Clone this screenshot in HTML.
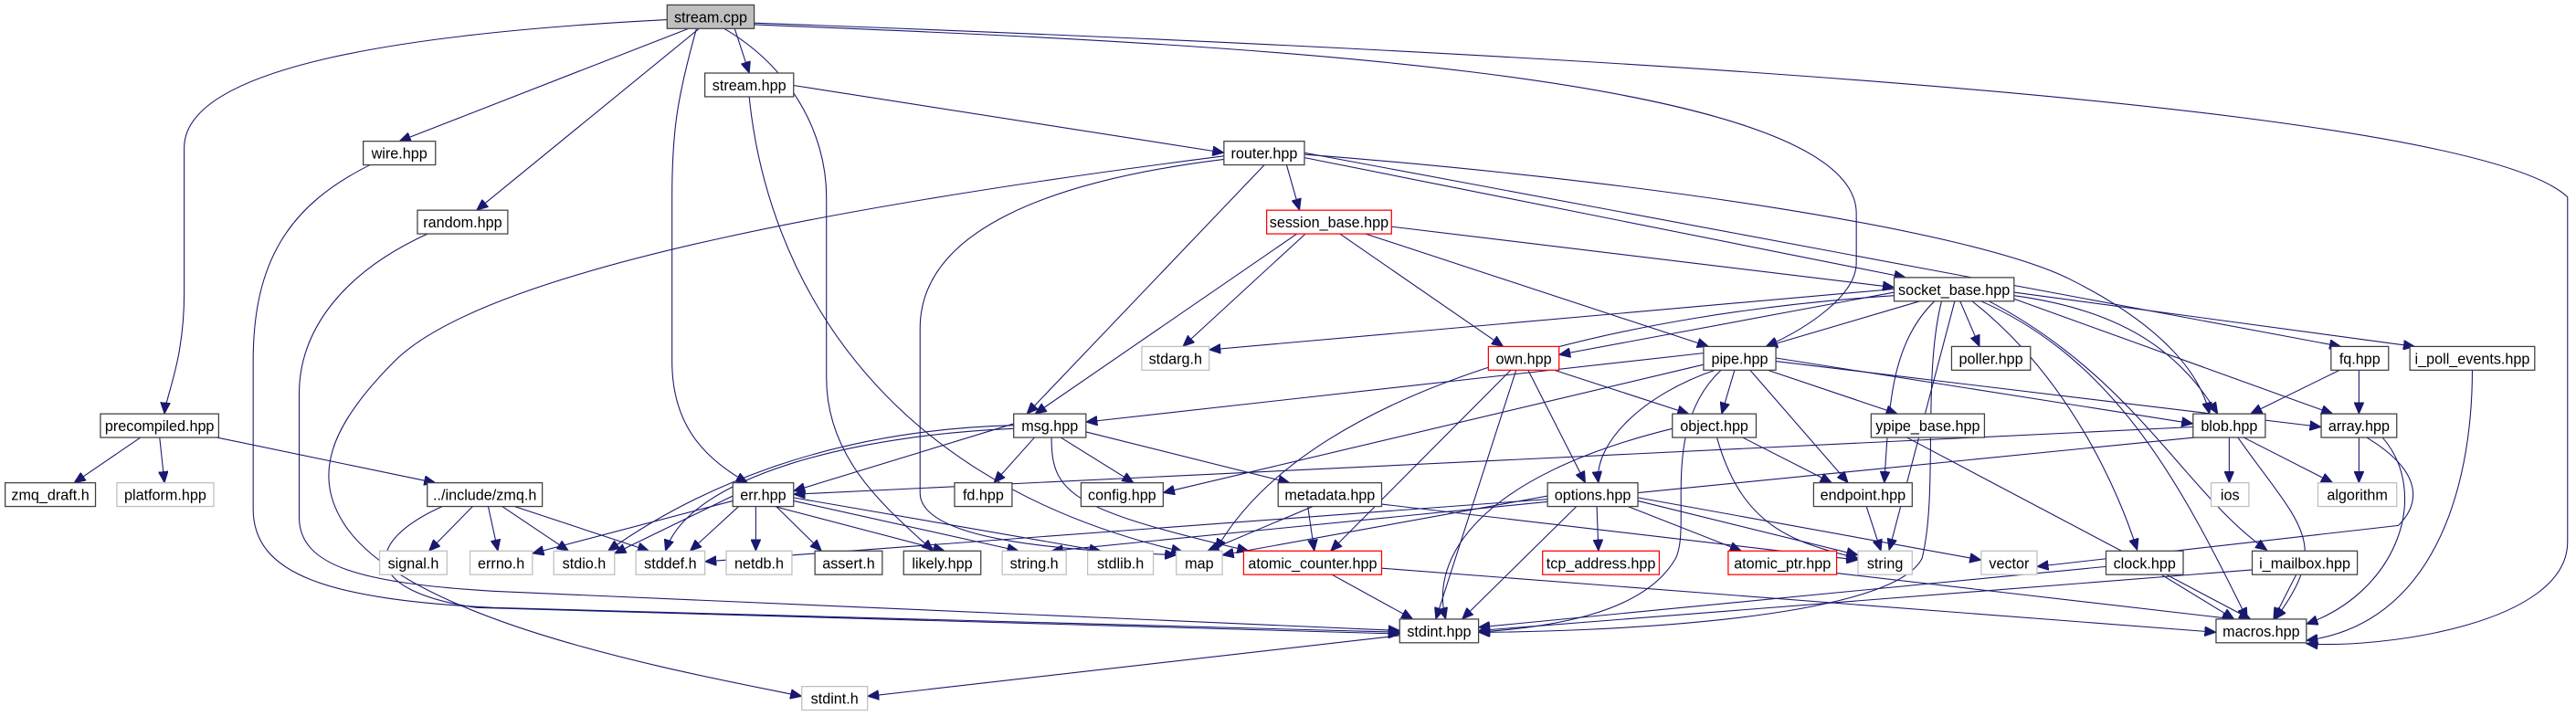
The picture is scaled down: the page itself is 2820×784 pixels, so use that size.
<!DOCTYPE html>
<html><head><meta charset="utf-8"><style>
html,body{margin:0;padding:0;background:#fff;}
svg{display:block;}
text{font-family:"Liberation Sans",sans-serif;font-size:9px;fill:#000;text-anchor:middle;}
.n{fill:#fff;stroke:#404040;stroke-width:0.7;}
.g{fill:#fff;stroke:#bfbfbf;stroke-width:0.7;}
.r{fill:#fff;stroke:#ff0000;stroke-width:0.7;}
.e path{fill:none;stroke:#191970;stroke-width:0.6;marker-end:url(#a);}
</style></head><body>
<svg width="2820" height="784" viewBox="0 0 1568 436" xmlns="http://www.w3.org/2000/svg">
<defs><marker id="a" markerUnits="userSpaceOnUse" markerWidth="8" markerHeight="6" refX="7" refY="3" orient="auto"><path d="M0,0 L7,3 L0,6 z" fill="#191970" stroke="#191970" stroke-width="0.5"/></marker></defs>
<g class="e">
<path d="M406,12 C250,20 112,40 112,90 L112,178 C112,220 101,240 100,252"/>
<path d="M420,17 L243,86"/>
<path d="M426,17 L290,128"/>
<path d="M424,17 C412,60 409,80 409,120 L409,220 C409,260 430,280 455,294"/>
<path d="M440,17 C480,40 503,80 503,120 L503,230 C503,280 540,310 568,335.5"/>
<path d="M447,17 L456,44.5"/>
<path d="M459,15 C700,25 1130,40 1130,130 L1130,160 C1130,180 1100,200 1075,211"/>
<path d="M459,14 C900,30 1500,60 1563,120 L1563,330 C1563,380 1450,395 1404,392"/>
<path d="M483,52 L745,93"/>
<path d="M456,59 C465,150 520,290 720,336"/>
<path d="M226,100 C175,125 154,160 154,220 L154,310 C154,350 200,365 300,370 L852,385"/>
<path d="M261,142 C210,165 182,200 182,240 L182,315 C182,345 220,355 300,360 L852,384"/>
<path d="M86,266 L45,294"/>
<path d="M97,266 L100,294"/>
<path d="M130,266 L265,294"/>
<path d="M288,308 L261,335.5"/>
<path d="M297,308 L303,335.5"/>
<path d="M305,308 L346,335.5"/>
<path d="M312,308 L395,335.5"/>
<path d="M270,308 C220,330 220,360 290,370 L852,386"/>
<path d="M783,100 L791,128"/>
<path d="M770,100 L625,252"/>
<path d="M745,95 C550,120 300,160 240,220 C200,260 190,290 210,320 C250,380 420,410 488,424"/>
<path d="M745,97 C640,110 560,140 560,200 L560,300 C560,330 650,335 716,338"/>
<path d="M794,96 L1160,169"/>
<path d="M794,94 C1000,110 1200,140 1260,170 C1320,200 1340,230 1345,252"/>
<path d="M794,93 L1425,211"/>
<path d="M795,142 L720,211"/>
<path d="M790,142 L630,252"/>
<path d="M815,142 L915,211"/>
<path d="M830,142 L1040,211"/>
<path d="M847,138 L1153,175"/>
<path d="M1153,176 L736,213"/>
<path d="M1153,178 L949,216"/>
<path d="M1170,183 L1075,211"/>
<path d="M1193,183 L1205,211"/>
<path d="M1226,178 L1470,211"/>
<path d="M1226,180 C1300,190 1330,220 1350,252"/>
<path d="M1226,182 L1420,252"/>
<path d="M1153,180 C1000,190 800,230 740,335"/>
<path d="M1182,183 C1170,230 1180,300 1170,340 C1150,380 950,385 900,385"/>
<path d="M1190,183 L1150,335"/>
<path d="M1178,183 C1150,210 1150,250 1147,294"/>
<path d="M1200,183 C1260,230 1290,300 1301,335"/>
<path d="M1210,183 C1300,230 1330,300 1380,335"/>
<path d="M1205,183 C1290,220 1330,300 1368,377"/>
<path d="M945,225 L1028,252"/>
<path d="M930,225 L965,294"/>
<path d="M920,225 L810,335.5"/>
<path d="M923,225 L874,377"/>
<path d="M1037,215 L661,257"/>
<path d="M1056,225 L1048,252"/>
<path d="M1045,225 C1000,240 970,270 973,294"/>
<path d="M1065,225 L1125,294"/>
<path d="M1075,225 L1155,252"/>
<path d="M1081,218 L1335,258"/>
<path d="M1081,220 L1413,260"/>
<path d="M1037,222 L708,300"/>
<path d="M1048,225 C1010,260 1030,320 1020,340 C1000,375 940,382 900,385"/>
<path d="M617,258 L483,299"/>
<path d="M630,266 L605,294"/>
<path d="M645,266 L690,294"/>
<path d="M661,263 L785,294"/>
<path d="M617,259 C500,262 420,300 370,335.5"/>
<path d="M617,261 C520,265 420,290 405,335.5"/>
<path d="M640,266 C640,300 650,310 760,335.5"/>
<path d="M446,305 L324,337"/>
<path d="M446,302 L374,337"/>
<path d="M450,308 L420,335.5"/>
<path d="M460,308 L460,335.5"/>
<path d="M472,308 L500,335.5"/>
<path d="M470,308 L575,335.5"/>
<path d="M483,305 L620,335.5"/>
<path d="M483,303 L670,335.5"/>
<path d="M800,308 L735,335.5"/>
<path d="M796,308 L800,335.5"/>
<path d="M841,307 L1131,341"/>
<path d="M1018,261 C900,290 870,340 880,377"/>
<path d="M1060,266 L1115,294"/>
<path d="M1045,266 C1060,320 1090,330 1131,340"/>
<path d="M960,308 L890,377"/>
<path d="M972,308 L973,335.5"/>
<path d="M990,308 L1060,335.5"/>
<path d="M997,305 L1131,338"/>
<path d="M997,303 L1206,341"/>
<path d="M942,304 L429,342"/>
<path d="M942,302 L744,338"/>
<path d="M1136,308 L1145,335.5"/>
<path d="M810,349.5 L860,377"/>
<path d="M841,346 L1349,385"/>
<path d="M1118,349 L1360,377"/>
<path d="M1160,266 L1370,377"/>
<path d="M1335,260 L483,301"/>
<path d="M1340,266 L640,335.5"/>
<path d="M1357,266 L1357,294"/>
<path d="M1365,266 L1420,294"/>
<path d="M1362,266 C1400,320 1420,330 1385,377"/>
<path d="M1436,266 L1436,294"/>
<path d="M1440,266 C1480,290 1470,310 1460,320 L1240,345"/>
<path d="M1450,266 C1480,300 1460,360 1404,380"/>
<path d="M1425,225 L1370,252"/>
<path d="M1436,225 L1436,252"/>
<path d="M1505,225 C1505,300 1480,380 1404,390"/>
<path d="M1282,345 L900,382"/>
<path d="M1315,349.5 L1360,377"/>
<path d="M1371,347 L900,384"/>
<path d="M1398,349.5 L1384,377"/>
<path d="M852,387 L528,424"/>
</g>
<g>
<rect x="406" y="3" width="53" height="14.4" fill="#bfbfbf" stroke="#404040" stroke-width="0.7"/><text x="432.5" y="13.6">stream.cpp</text>
<rect class="n" x="429" y="44.5" width="54" height="14.4"/><text x="456" y="55.1">stream.hpp</text>
<rect class="n" x="221" y="86" width="44" height="14.4"/><text x="243" y="96.6">wire.hpp</text>
<rect class="n" x="745" y="86" width="49" height="14.4"/><text x="769.5" y="96.6">router.hpp</text>
<rect class="n" x="254" y="128" width="55" height="14.4"/><text x="281.5" y="138.6">random.hpp</text>
<rect class="r" x="771" y="128" width="76" height="14.4"/><text x="809" y="138.6">session_base.hpp</text>
<rect class="n" x="1153" y="169" width="73" height="14.4"/><text x="1189.5" y="179.6">socket_base.hpp</text>
<rect class="g" x="695" y="211" width="41" height="14.4"/><text x="715.5" y="221.6">stdarg.h</text>
<rect class="r" x="906" y="211" width="43" height="14.4"/><text x="927.5" y="221.6">own.hpp</text>
<rect class="n" x="1037" y="211" width="44" height="14.4"/><text x="1059" y="221.6">pipe.hpp</text>
<rect class="n" x="1188" y="211" width="48" height="14.4"/><text x="1212" y="221.6">poller.hpp</text>
<rect class="n" x="1419" y="211" width="35" height="14.4"/><text x="1436.5" y="221.6">fq.hpp</text>
<rect class="n" x="1467" y="211" width="76" height="14.4"/><text x="1505" y="221.6">i_poll_events.hpp</text>
<rect class="n" x="61" y="252" width="72" height="14.4"/><text x="97" y="262.6">precompiled.hpp</text>
<rect class="n" x="617" y="252" width="44" height="14.4"/><text x="639" y="262.6">msg.hpp</text>
<rect class="n" x="1018" y="252" width="51" height="14.4"/><text x="1043.5" y="262.6">object.hpp</text>
<rect class="n" x="1139" y="252" width="69" height="14.4"/><text x="1173.5" y="262.6">ypipe_base.hpp</text>
<rect class="n" x="1335" y="252" width="44" height="14.4"/><text x="1357" y="262.6">blob.hpp</text>
<rect class="n" x="1413" y="252" width="46" height="14.4"/><text x="1436" y="262.6">array.hpp</text>
<rect class="n" x="3" y="294" width="55" height="14.4"/><text x="30.5" y="304.6">zmq_draft.h</text>
<rect class="g" x="71" y="294" width="59" height="14.4"/><text x="100.5" y="304.6">platform.hpp</text>
<rect class="n" x="260" y="294" width="70" height="14.4"/><text x="295" y="304.6">../include/zmq.h</text>
<rect class="n" x="446" y="294" width="37" height="14.4"/><text x="464.5" y="304.6">err.hpp</text>
<rect class="n" x="581" y="294" width="35" height="14.4"/><text x="598.5" y="304.6">fd.hpp</text>
<rect class="n" x="658" y="294" width="50" height="14.4"/><text x="683" y="304.6">config.hpp</text>
<rect class="n" x="778" y="294" width="63" height="14.4"/><text x="809.5" y="304.6">metadata.hpp</text>
<rect class="n" x="942" y="294" width="55" height="14.4"/><text x="969.5" y="304.6">options.hpp</text>
<rect class="n" x="1104" y="294" width="60" height="14.4"/><text x="1134" y="304.6">endpoint.hpp</text>
<rect class="g" x="1346" y="294" width="23" height="14.4"/><text x="1357.5" y="304.6">ios</text>
<rect class="g" x="1411" y="294" width="48" height="14.4"/><text x="1435" y="304.6">algorithm</text>
<rect class="g" x="231" y="335.5" width="41" height="14.4"/><text x="251.5" y="346.1">signal.h</text>
<rect class="g" x="286" y="335.5" width="38" height="14.4"/><text x="305" y="346.1">errno.h</text>
<rect class="g" x="337" y="335.5" width="37" height="14.4"/><text x="355.5" y="346.1">stdio.h</text>
<rect class="g" x="387" y="335.5" width="42" height="14.4"/><text x="408" y="346.1">stddef.h</text>
<rect class="g" x="442" y="335.5" width="40" height="14.4"/><text x="462" y="346.1">netdb.h</text>
<rect class="n" x="496" y="335.5" width="41" height="14.4"/><text x="516.5" y="346.1">assert.h</text>
<rect class="n" x="550" y="335.5" width="47" height="14.4"/><text x="573.5" y="346.1">likely.hpp</text>
<rect class="g" x="610" y="335.5" width="39" height="14.4"/><text x="629.5" y="346.1">string.h</text>
<rect class="g" x="662" y="335.5" width="40" height="14.4"/><text x="682" y="346.1">stdlib.h</text>
<rect class="g" x="716" y="335.5" width="28" height="14.4"/><text x="730" y="346.1">map</text>
<rect class="r" x="757" y="335.5" width="84" height="14.4"/><text x="799" y="346.1">atomic_counter.hpp</text>
<rect class="r" x="939" y="335.5" width="71" height="14.4"/><text x="974.5" y="346.1">tcp_address.hpp</text>
<rect class="r" x="1052" y="335.5" width="66" height="14.4"/><text x="1085" y="346.1">atomic_ptr.hpp</text>
<rect class="g" x="1131" y="335.5" width="33" height="14.4"/><text x="1147.5" y="346.1">string</text>
<rect class="g" x="1206" y="335.5" width="34" height="14.4"/><text x="1223" y="346.1">vector</text>
<rect class="n" x="1282" y="335.5" width="47" height="14.4"/><text x="1305.5" y="346.1">clock.hpp</text>
<rect class="n" x="1371" y="335.5" width="64" height="14.4"/><text x="1403" y="346.1">i_mailbox.hpp</text>
<rect class="n" x="852" y="377" width="48" height="14.4"/><text x="876" y="387.6">stdint.hpp</text>
<rect class="n" x="1349" y="377" width="55" height="14.4"/><text x="1376.5" y="387.6">macros.hpp</text>
<rect class="g" x="488" y="418" width="40" height="14.4"/><text x="508" y="428.6">stdint.h</text>
</g>
</svg>
</body></html>
